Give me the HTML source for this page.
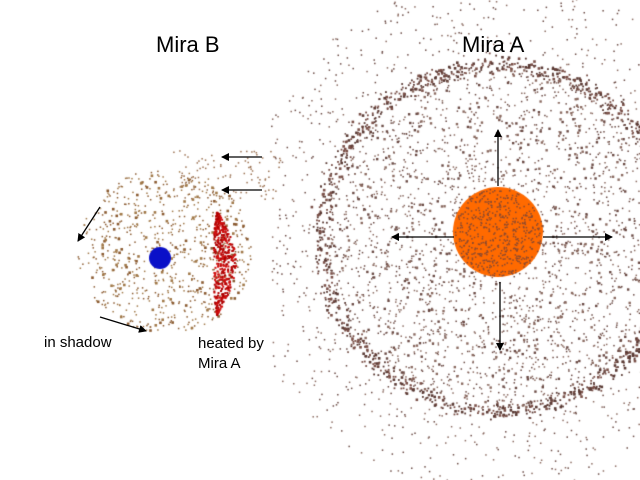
<!DOCTYPE html>
<html><head><meta charset="utf-8">
<style>
html,body{margin:0;padding:0;background:#fff;}
#w{position:relative;width:640px;height:480px;overflow:hidden;background:#fff;font-family:"Liberation Sans",sans-serif;}
canvas,svg{position:absolute;left:0;top:0;}
.t{position:absolute;color:#000;}
</style></head><body>
<div id="w">
<canvas id="c" width="640" height="480"></canvas>
<svg width="640" height="480" viewBox="0 0 640 480">
<defs><marker id="a" markerWidth="8" markerHeight="8" refX="7" refY="4" orient="auto" markerUnits="userSpaceOnUse"><path d="M0,0 L8,4 L0,8 Z" fill="#000"/></marker></defs>
<g stroke="#000" stroke-width="1.3" marker-end="url(#a)">
<line x1="498" y1="186" x2="498" y2="130"/>
<line x1="500" y1="282" x2="500" y2="350"/>
<line x1="454" y1="237" x2="392" y2="237"/>
<line x1="543" y1="237" x2="612" y2="237"/>
<line x1="262" y1="157" x2="222" y2="157"/>
<line x1="262" y1="190" x2="222" y2="190"/>
<line x1="100" y1="207" x2="78" y2="241"/>
<line x1="100" y1="317" x2="146" y2="331"/>
</g>
</svg>
<div class="t" style="left:156px;top:32px;font-size:22px;">Mira B</div>
<div class="t" style="left:462px;top:32px;font-size:22px;">Mira A</div>
<div class="t" style="left:44px;top:334px;font-size:15px;">in shadow</div>
<div class="t" style="left:198px;top:334px;font-size:15px;line-height:20px;">heated by<br>Mira A</div>
</div>
<script>
var c=document.getElementById('c').getContext('2d');
var s=12345;function r(){s=(s*1103515245+12345)&0x7fffffff;return s/0x7fffffff;}
function g(){return (r()+r()+r()-1.5)/1.5;}
function dot(x,y,col,sz){c.fillStyle=col;c.fillRect(x,y,sz,sz);}
var cx=498,cy=237,i,a,rr,x,y;
// ring
for(i=0;i<1300;i++){a=r()*Math.PI*2;rr=178+g()*14;dot(cx+rr*Math.cos(a),cy+rr*0.97*Math.sin(a),r()<0.5?'#5a3a34':'#7a5048',r()<0.3?2.6:1.8);}
// interior
for(i=0;i<2600;i++){a=r()*Math.PI*2;rr=Math.sqrt(r())*172;x=cx+rr*Math.cos(a);y=cy+rr*Math.sin(a);dot(x,y,r()<0.5?'#6a4a44':'#8a6a60',r()<0.2?2.4:1.5);}
// outer
for(i=0;i<900;i++){a=r()*Math.PI*2;rr=185+r()*75;x=cx+rr*Math.cos(a);y=cy+rr*Math.sin(a);if(x<270)continue;dot(x,y,r()<0.5?'#6a4a44':'#8a6a60',1.5);}
// Mira B cloud
for(i=0;i<750;i++){a=r()*Math.PI*2;rr=Math.sqrt(r());x=165+rr*88*Math.cos(a);y=250+rr*82*Math.sin(a);dot(x,y,r()<0.5?'#8a5a30':'#a07848',r()<0.15?2.6:1.5);}
for(i=0;i<100;i++){dot(170+r()*110,150+r()*50,'#9a7050',1.5);}
// red crescent (lens)
for(i=0;i<450;i++){var t=r()*2-1;y=262+t*52;var w=(1-t*t);x=222+w*3 - Math.abs(t)*6 + (r()*2-1)*w*11;dot(x,y,r()<0.5?'#d01010':'#b00000',2);}
// Mira A star
c.fillStyle='#ff6a00';c.beginPath();c.arc(498,232,45,0,Math.PI*2);c.fill();
for(i=0;i<500;i++){a=r()*Math.PI*2;rr=Math.sqrt(r())*44;dot(498+rr*Math.cos(a),232+rr*Math.sin(a),'#8a4a30',1.5);}
// Mira B star
c.fillStyle='#0a10c8';c.beginPath();c.arc(160,258,11,0,Math.PI*2);c.fill();
</script>
</body></html>
